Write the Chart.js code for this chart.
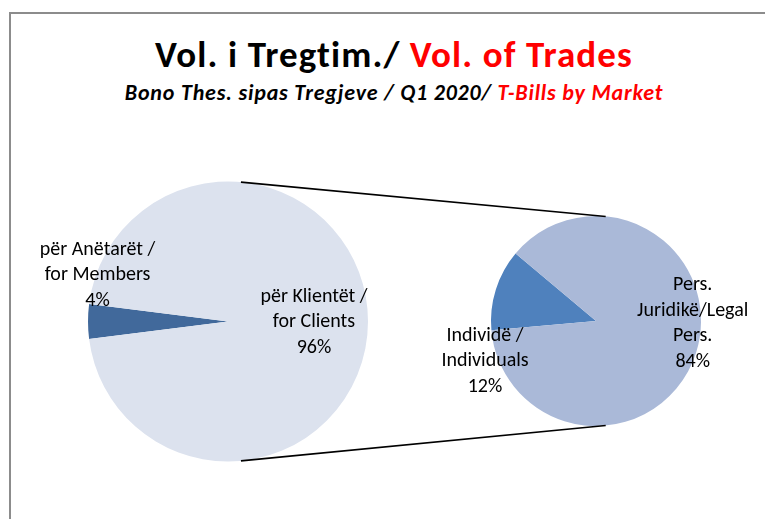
<!DOCTYPE html>
<html>
<head>
<meta charset="utf-8">
<script src="https://cdn.jsdelivr.net/npm/chart.js@4"></script>
<style>
  body { margin: 0; background: #fff; }
  #wrap { position: relative; width: 765px; height: 519px; overflow: hidden; font-family: Carlito, Lato, sans-serif; }
  #frame { position: absolute; left: 9px; top: 12px; width: 820px; height: 620px; border: 2px solid #8c8c8c; box-sizing: border-box; }
  .head { position: absolute; left: 0; width: 788px; text-align: center; font-weight: bold; white-space: nowrap; line-height: 1.2; }
  #title { top: 33px; font-size: 37px; letter-spacing: 1.1px; }
  #sub { top: 80px; font-size: 22px; font-style: italic; letter-spacing: 0.8px; }
  .red { color: #ff0000; }
  canvas { position: absolute; left: 0; top: 0; }
</style>
</head>
<body>
<div id="wrap">
  <div id="frame"></div>
  <div id="title" class="head">Vol. i Tregtim./ <span class="red">Vol. of Trades</span></div>
  <div id="sub" class="head">Bono Thes. sipas Tregjeve / Q1 2020/ <span class="red">T-Bills by Market</span></div>
  <canvas id="mainPie" width="765" height="519"></canvas>
  <canvas id="splitPie" width="765" height="519"></canvas>
</div>
<script>
// --- te dhenat (% e totalit) ---
const mainLabels = [['për Anëtarët /', 'for Members'], ['për Klientët /', 'for Clients']];
const mainValues = [4, 96];
const mainColors = ['#41699b', '#dce2ee'];

const splitLabels = [['Individë /', 'Individuals'], ['Pers.', 'Juridikë/Legal', 'Pers.']];
const splitValues = [12, 84];
const splitColors = ['#4f81bd', '#aab9d8'];

// etiketat: pozicioni relativ ndaj qendres, ne njesi rrezeje
const pieLabels = {
  id: 'pieLabels',
  afterDatasetsDraw(chart, args, opts) {
    const ctx = chart.ctx;
    const meta = chart.getDatasetMeta(0);
    const data = chart.data.datasets[0].data;
    ctx.save();
    ctx.font = '20px Carlito, Lato, sans-serif';
    ctx.fillStyle = '#000';
    ctx.textAlign = 'center';
    ctx.textBaseline = 'middle';
    meta.data.forEach((arc, i) => {
      const lines = [].concat(chart.data.labels[i], data[i] + '%');
      const p = opts.pos[i];
      const x = arc.x + p[0] * arc.outerRadius;
      const y = arc.y + p[1] * arc.outerRadius;
      const lh = 25.5;
      lines.forEach((t, j) => {
        ctx.fillText(t, x, y + (j - (lines.length - 1) / 2) * lh);
      });
    });
    ctx.restore();
  }
};

// vijat lidhese mes dy pieve
const connectors = {
  id: 'connectors',
  afterDraw(chart) {
    const a = mainChart.getDatasetMeta(0).data[0];
    const b = chart.getDatasetMeta(0).data[0];
    const ang = 5.3 * Math.PI / 180;
    const ctx = chart.ctx;
    ctx.save();
    ctx.strokeStyle = '#000';
    ctx.lineWidth = 1.6;
    [-1, 1].forEach(s => {
      ctx.beginPath();
      ctx.moveTo(a.x + a.outerRadius * Math.sin(ang), a.y + s * a.outerRadius * Math.cos(ang));
      ctx.lineTo(b.x + b.outerRadius * Math.sin(ang), b.y + s * b.outerRadius * Math.cos(ang));
      ctx.stroke();
    });
    ctx.restore();
  }
};

Chart.defaults.animation = false;

const mainChart = new Chart(document.getElementById('mainPie'), {
  type: 'pie',
  data: {
    labels: mainLabels,
    datasets: [{ data: mainValues, backgroundColor: mainColors, borderWidth: 0 }]
  },
  options: {
    responsive: false,
    devicePixelRatio: 1,
    events: [],
    rotation: 262.8,
    layout: { padding: { left: 88, right: 397, top: 181.5, bottom: 57.5 } },
    plugins: {
      legend: { display: false },
      tooltip: { enabled: false },
      pieLabels: { pos: [[-0.932, -0.332], [0.614, 0.004]] }
    }
  },
  plugins: [pieLabels]
});

const splitChart = new Chart(document.getElementById('splitPie'), {
  type: 'pie',
  data: {
    labels: splitLabels,
    datasets: [{ data: splitValues, backgroundColor: splitColors, borderWidth: 0 }]
  },
  options: {
    responsive: false,
    devicePixelRatio: 1,
    events: [],
    rotation: 265,
    layout: { padding: { left: 491, right: 64, top: 216, bottom: 93 } },
    plugins: {
      legend: { display: false },
      tooltip: { enabled: false },
      pieLabels: { pos: [[-1.057, 0.381], [0.921, 0.024]] }
    }
  },
  plugins: [pieLabels, connectors]
});
</script>
</body>
</html>
